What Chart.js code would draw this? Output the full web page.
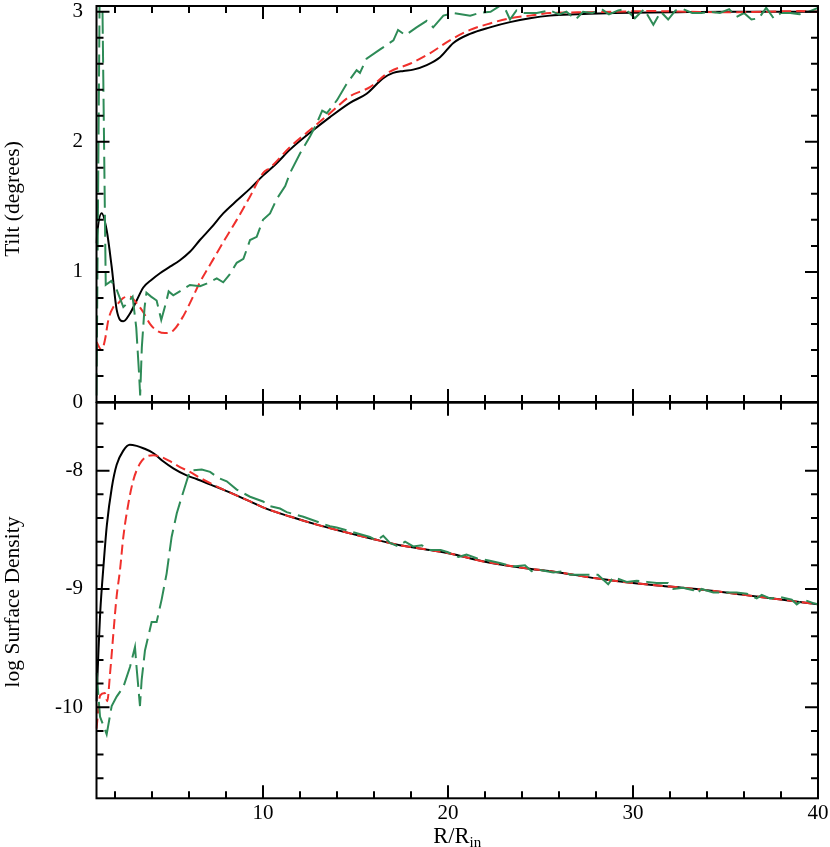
<!DOCTYPE html>
<html><head><meta charset="utf-8">
<script src="https://cdn.jsdelivr.net/npm/chart.js@4.4.0/dist/chart.umd.min.js"></script>
<style>
html,body{margin:0;padding:0;background:#fff;}
#wrap{position:relative;width:830px;height:847px;overflow:hidden;background:#fff;}
canvas{position:absolute;left:0;}
#cTop{top:0;}
#cBot{top:390px;}
</style></head><body>
<div id="wrap">
<canvas id="cTop" width="830" height="420"></canvas>
<canvas id="cBot" width="830" height="457"></canvas>
</div>
<script>
// ---------- DATA ----------
// Top panel: tilt (degrees) vs R/Rin
const tiltSolidR = [1.0, 1.04, 1.28, 1.55, 1.82, 2.09, 2.45, 2.81, 3.17, 3.53, 3.98, 4.43, 4.97, 5.51, 6.05, 6.59, 7.2, 7.85, 8.6, 9.3, 10.0, 10.7, 11.46, 12.54, 13.62, 14.7, 15.6, 16.5, 17.04, 17.6, 18.12, 18.85, 19.57, 20.29, 21.19, 22.27, 23.35, 24.43, 25.51, 27, 29, 32, 35, 38, 40];
const tiltSolid  = [1.22, 1.3, 1.45, 1.32, 1.04, 0.71, 0.62, 0.68, 0.78, 0.88, 0.94, 0.99, 1.04, 1.09, 1.155, 1.245, 1.34, 1.45, 1.55, 1.64, 1.74, 1.83, 1.94, 2.07, 2.19, 2.30, 2.37, 2.49, 2.53, 2.545, 2.555, 2.59, 2.65, 2.76, 2.83, 2.88, 2.92, 2.95, 2.97, 2.98, 2.99, 2.995, 3.0, 3.0, 3.0];

const tiltShortR = [1.0, 1.28, 1.46, 1.64, 1.91, 2.18, 2.45, 2.81, 3.17, 3.53, 3.89, 4.25, 4.7, 5.15, 5.69, 6.05, 6.59, 7.2, 7.9, 8.58, 9.3, 10.0, 10.38, 11.46, 12.54, 13.62, 14.7, 15.78, 16.86, 17.94, 19.02, 20.1, 21.19, 22.27, 23.35, 24.43, 25.51, 27, 29, 31, 33, 35, 37, 39, 40];
const tiltShort  = [0.46, 0.40, 0.48, 0.63, 0.73, 0.76, 0.80, 0.81, 0.76, 0.69, 0.60, 0.55, 0.53, 0.55, 0.66, 0.76, 0.92, 1.07, 1.24, 1.40, 1.58, 1.76, 1.80, 1.96, 2.09, 2.22, 2.35, 2.42, 2.54, 2.60, 2.68, 2.78, 2.86, 2.91, 2.95, 2.97, 2.99, 2.995, 3.0, 3.005, 3.0, 2.995, 3.0, 3.005, 3.0];

const tiltLongR = [1.0, 1.18, 1.3, 1.5, 1.8, 2.1, 2.45, 2.6, 2.95, 3.15, 3.3, 3.36, 3.45, 3.6, 3.7, 3.95, 4.25, 4.5, 4.75, 4.9, 5.15, 5.5, 6.05, 6.6, 6.95, 7.5, 7.85, 8.2, 8.58, 8.94, 9.3, 9.66, 10.0, 10.38, 10.74, 11.2, 11.46, 12.0, 12.54, 12.9, 13.2, 13.45, 14.0, 14.5, 15.06, 15.24, 15.6, 16.33, 17.05, 17.3, 17.7, 18.3, 18.85, 19.2, 19.75, 20.3, 21.2, 21.7, 22.3, 22.97, 23.35, 23.7, 24.06, 24.8, 25.5, 26, 26.4, 26.9, 27.3, 27.8, 28.3, 28.7, 29.2, 29.6, 30.1, 30.6, 31.1, 31.5, 31.9, 32.3, 32.7, 33.2, 33.7, 34.2, 34.7, 35.2, 35.6, 36.0, 36.4, 36.8, 37.2, 37.6, 38.0, 38.5, 39.0, 39.5, 40];
const tiltLong  = [0.05, 3.3, 3.3, 0.9, 0.93, 0.86, 0.73, 0.75, 0.81, 0.57, 0.22, 0.05, 0.42, 0.73, 0.84, 0.81, 0.78, 0.63, 0.76, 0.85, 0.82, 0.85, 0.90, 0.89, 0.91, 0.95, 0.92, 0.98, 1.07, 1.10, 1.245, 1.27, 1.40, 1.45, 1.56, 1.66, 1.76, 1.91, 2.04, 2.14, 2.24, 2.22, 2.32, 2.44, 2.55, 2.53, 2.64, 2.71, 2.78, 2.86, 2.82, 2.88, 2.93, 2.88, 2.97, 2.99, 2.97, 2.99, 3.0, 3.06, 2.94, 3.01, 2.99, 2.99, 3.01, 2.98, 3.0, 2.94, 3.0, 2.99, 3.02, 2.98, 3.01, 3.02, 2.95, 3.02, 2.90, 3.0, 2.94, 3.01, 3.02, 2.99, 2.99, 3.0, 2.99, 3.02, 2.96, 2.99, 2.94, 2.95, 3.03, 2.95, 2.99, 2.99, 2.98, 3.0, 3.03];

// Bottom panel: log surface density vs R/Rin
const sigmaSolidR = [1.0, 1.1, 1.2, 1.38, 1.56, 1.83, 2.09, 2.45, 2.8, 3.17, 3.53, 4.06, 4.6, 5.15, 5.87, 6.41, 7.2, 8.0, 9.3, 10.0, 11.5, 13.0, 14.7, 16.0, 17.4, 19.0, 20.1, 22.0, 24.0, 26.0, 28.0, 30.0, 32.0, 34.0, 36.0, 38.0, 40.0];
const sigmaSolid  = [-9.95, -9.55, -9.2, -8.8, -8.46, -8.14, -7.95, -7.83, -7.78, -7.79, -7.81, -7.85, -7.92, -7.98, -8.04, -8.07, -8.12, -8.17, -8.26, -8.31, -8.39, -8.46, -8.53, -8.58, -8.63, -8.67, -8.70, -8.77, -8.82, -8.86, -8.91, -8.95, -8.98, -9.01, -9.05, -9.09, -9.13];

const sigmaShortR = [1.0, 1.2, 1.45, 1.58, 1.73, 1.91, 2.09, 2.27, 2.45, 2.72, 2.99, 3.35, 3.71, 4.07, 4.43, 4.97, 5.51, 6.05, 6.59, 7.2, 8.0, 9.3, 10.0, 11.5, 13.0, 14.7, 16.0, 17.4, 19.0, 20.1, 22.0, 24.0, 26.0, 28.0, 30.0, 32.0, 34.0, 36.0, 38.0, 40.0];
const sigmaShort  = [-10.18, -9.9, -9.88, -9.95, -9.72, -9.38, -9.06, -8.84, -8.56, -8.28, -8.08, -7.94, -7.88, -7.87, -7.88, -7.92, -7.97, -8.01, -8.06, -8.11, -8.17, -8.26, -8.31, -8.39, -8.46, -8.53, -8.58, -8.63, -8.67, -8.70, -8.77, -8.82, -8.86, -8.91, -8.95, -8.98, -9.01, -9.05, -9.09, -9.13];

const sigmaLongR = [1.01, 1.19, 1.46, 1.55, 1.82, 2.09, 2.45, 2.81, 3.08, 3.17, 3.35, 3.44, 3.62, 3.8, 3.98, 4.25, 4.52, 4.79, 5.06, 5.34, 5.61, 6.05, 6.69, 7.14, 7.58, 8.04, 8.58, 9.3, 10.0, 10.38, 10.92, 11.28, 12.18, 12.9, 13.62, 13.98, 14.88, 15.78, 16.15, 16.5, 16.86, 17.31, 17.68, 18.12, 18.58, 19.03, 19.6, 20.0, 20.56, 21.0, 21.55, 22.2, 22.8, 23.5, 24.16, 24.52, 24.97, 25.69, 26.23, 26.6, 27.3, 28.1, 28.66, 28.94, 29.66, 30.2, 30.74, 31.28, 31.9, 32.18, 32.7, 33.26, 33.44, 33.71, 34.34, 35.06, 35.6, 36.15, 36.69, 36.96, 37.4, 38.0, 38.58, 38.85, 39.2, 39.75, 40.0];
const sigmaLong  = [-9.71, -10.08, -10.19, -10.23, -9.99, -9.91, -9.83, -9.66, -9.49, -9.67, -9.99, -9.77, -9.52, -9.40, -9.28, -9.28, -9.09, -8.87, -8.56, -8.36, -8.22, -8.00, -7.99, -8.01, -8.06, -8.09, -8.16, -8.22, -8.26, -8.30, -8.32, -8.35, -8.39, -8.43, -8.47, -8.48, -8.52, -8.56, -8.59, -8.55, -8.61, -8.64, -8.60, -8.64, -8.63, -8.67, -8.67, -8.69, -8.73, -8.71, -8.74, -8.76, -8.78, -8.81, -8.80, -8.85, -8.84, -8.86, -8.85, -8.88, -8.88, -8.88, -8.96, -8.90, -8.94, -8.93, -8.94, -8.95, -8.95, -9.00, -8.99, -9.01, -9.04, -9.00, -9.03, -9.03, -9.03, -9.04, -9.08, -9.05, -9.08, -9.07, -9.09, -9.13, -9.09, -9.12, -9.13];

// Tick labels
const xTickLabels = [10, 20, 30, 40];
const tiltTickLabels = [0, 1, 2, 3];
const sigmaTickLabels = [-10, -9, -8];
const xTitle = 'R/R';
const xTitleSub = 'in';
const tiltTitle = 'Tilt (degrees)';
const sigmaTitle = 'log Surface Density';

// ---------- STYLE / LAYOUT ----------
const FONT = '"Liberation Serif", "Times New Roman", Times, serif';
const TICK_SIZE = 21;
const TITLE_SIZE = 21.5;
const XTITLE_SIZE = 22.5;
const SUB_SIZE = 15;
const GREEN = '#2e8b57';
const RED = '#f0302c';
const BLACK = '#000000';
const LEFT = 96.5, RIGHT = 818;

function series(xs, ys) {
  const n = Math.min(xs.length, ys.length);
  const out = [];
  for (let i = 0; i < n; i++) out.push({x: xs[i], y: ys[i]});
  return out;
}

const frameTicks = {
  id: 'frameTicks',
  afterDatasetsDraw(chart, args, o) {
    const {ctx, chartArea: a} = chart;
    const xs = chart.scales.x, ys = chart.scales.y;
    ctx.save();
    ctx.strokeStyle = '#000';
    ctx.lineWidth = 2;
    ctx.lineCap = 'butt';
    ctx.beginPath();
    // x ticks every 2, major every 10
    for (let v = 2; v < 40; v += 2) {
      const px = xs.getPixelForValue(v);
      const len = (v % 10 === 0) ? 13 : 7;
      ctx.moveTo(px, a.top); ctx.lineTo(px, a.top + len);
      ctx.moveTo(px, a.bottom); ctx.lineTo(px, a.bottom - len);
    }
    // y ticks every 0.2, major on integers
    const start = Math.ceil(ys.min * 5 - 1e-6), end = Math.floor(ys.max * 5 + 1e-6);
    for (let k = start; k <= end; k++) {
      const v = k / 5;
      const py = ys.getPixelForValue(v);
      if (py < a.top + 1.5 || py > a.bottom - 1.5) continue;
      const len = (k % 5 === 0) ? 13 : 7;
      ctx.moveTo(a.left, py); ctx.lineTo(a.left + len, py);
      ctx.moveTo(a.right, py); ctx.lineTo(a.right - len, py);
    }
    ctx.stroke();
    ctx.strokeRect(a.left, a.top, a.right - a.left, a.bottom - a.top);
    ctx.restore();
  },
  afterDraw(chart, args, o) {
    const {ctx, chartArea: a} = chart;
    ctx.save();
    ctx.fillStyle = '#000';
    // y title
    ctx.translate(o.yTitleX, o.yTitleY);
    ctx.rotate(-Math.PI / 2);
    ctx.font = TITLE_SIZE + 'px ' + FONT;
    ctx.textAlign = 'center';
    ctx.textBaseline = 'middle';
    ctx.fillText(o.yTitle, 0, 0);
    ctx.restore();
    if (o.xTitle) {
      ctx.save();
      ctx.fillStyle = '#000';
      ctx.textBaseline = 'alphabetic';
      ctx.textAlign = 'left';
      ctx.font = XTITLE_SIZE + 'px ' + FONT;
      const w1 = ctx.measureText(o.xTitle).width;
      ctx.font = SUB_SIZE + 'px ' + FONT;
      const w2 = ctx.measureText(o.xTitleSub).width;
      const cx = (a.left + a.right) / 2;
      const x0 = cx - (w1 + w2) / 2;
      ctx.font = XTITLE_SIZE + 'px ' + FONT;
      ctx.fillText(o.xTitle, x0, o.xTitleBase);
      ctx.font = SUB_SIZE + 'px ' + FONT;
      ctx.fillText(o.xTitleSub, x0 + w1, o.xTitleBase + 4);
      ctx.restore();
    }
  }
};

function lineSet(xs, ys, color, dash, smooth) {
  return {
    data: series(xs, ys),
    borderColor: color,
    backgroundColor: color,
    borderWidth: 2,
    borderDash: dash,
    pointRadius: 0,
    pointHoverRadius: 0,
    fill: false,
    tension: 0,
    cubicInterpolationMode: smooth ? 'monotone' : 'default',
    clip: 1
  };
}

function yScale(min, max, ticks) {
  return {
    type: 'linear', min, max,
    grid: {display: false, drawTicks: false},
    border: {display: false},
    ticks: {
      font: {family: FONT, size: TICK_SIZE},
      color: '#000', padding: 13.5,
      callback: v => String(v)
    },
    afterBuildTicks: s => { s.ticks = ticks.map(v => ({value: v})); },
    afterFit: s => { s.width = LEFT; s.paddingTop = 0; s.paddingBottom = 0; }
  };
}

// Top chart
new Chart(document.getElementById('cTop'), {
  type: 'line',
  data: { datasets: [
    lineSet(tiltLongR, tiltLong, GREEN, [22, 7], false),
    lineSet(tiltShortR, tiltShort, RED, [10, 5], true),
    lineSet(tiltSolidR, tiltSolid, BLACK, [], true)
  ]},
  options: {
    responsive: false, animation: false, devicePixelRatio: 1,
    events: [],
    layout: {padding: {left: 0, right: 830 - RIGHT, top: 6, bottom: 420 - 402}},
    plugins: {
      legend: {display: false}, tooltip: {enabled: false},
      frameTicks: {yTitle: tiltTitle, yTitleX: 13.5, yTitleY: 199}
    },
    scales: {
      x: {type: 'linear', min: 1, max: 40,
          grid: {display: false, drawTicks: false}, border: {display: false},
          ticks: {display: false},
          afterFit: s => { s.height = 0; s.paddingLeft = 0; s.paddingRight = 0; }},
      y: yScale(0, 3.044, tiltTickLabels)
    }
  },
  plugins: [frameTicks]
});

// Bottom chart
const BOT_TOP = 390;
new Chart(document.getElementById('cBot'), {
  type: 'line',
  data: { datasets: [
    lineSet(sigmaLongR, sigmaLong, GREEN, [22, 7], false),
    lineSet(sigmaShortR, sigmaShort, RED, [10, 5], true),
    lineSet(sigmaSolidR, sigmaSolid, BLACK, [], true)
  ]},
  options: {
    responsive: false, animation: false, devicePixelRatio: 1,
    events: [],
    layout: {padding: {left: 0, right: 830 - RIGHT, top: 402.7 - BOT_TOP, bottom: 0}},
    plugins: {
      legend: {display: false}, tooltip: {enabled: false},
      frameTicks: {yTitle: sigmaTitle, yTitleX: 13.5, yTitleY: 602 - BOT_TOP,
                   xTitle: xTitle, xTitleSub: xTitleSub, xTitleBase: 842.7 - BOT_TOP}
    },
    scales: {
      x: {type: 'linear', min: 1, max: 40,
          grid: {display: false, drawTicks: false}, border: {display: false},
          ticks: {font: {family: FONT, size: TICK_SIZE}, color: '#000', padding: 3,
                  maxRotation: 0, autoSkip: false, callback: v => String(v)},
          afterBuildTicks: s => { s.ticks = xTickLabels.map(v => ({value: v})); },
          afterFit: s => { s.height = 457 - (798.3 - BOT_TOP); s.paddingLeft = 0; s.paddingRight = 0; }},
      y: yScale(-10.77, -7.425, sigmaTickLabels)
    }
  },
  plugins: [frameTicks]
});
</script>
</body></html>
